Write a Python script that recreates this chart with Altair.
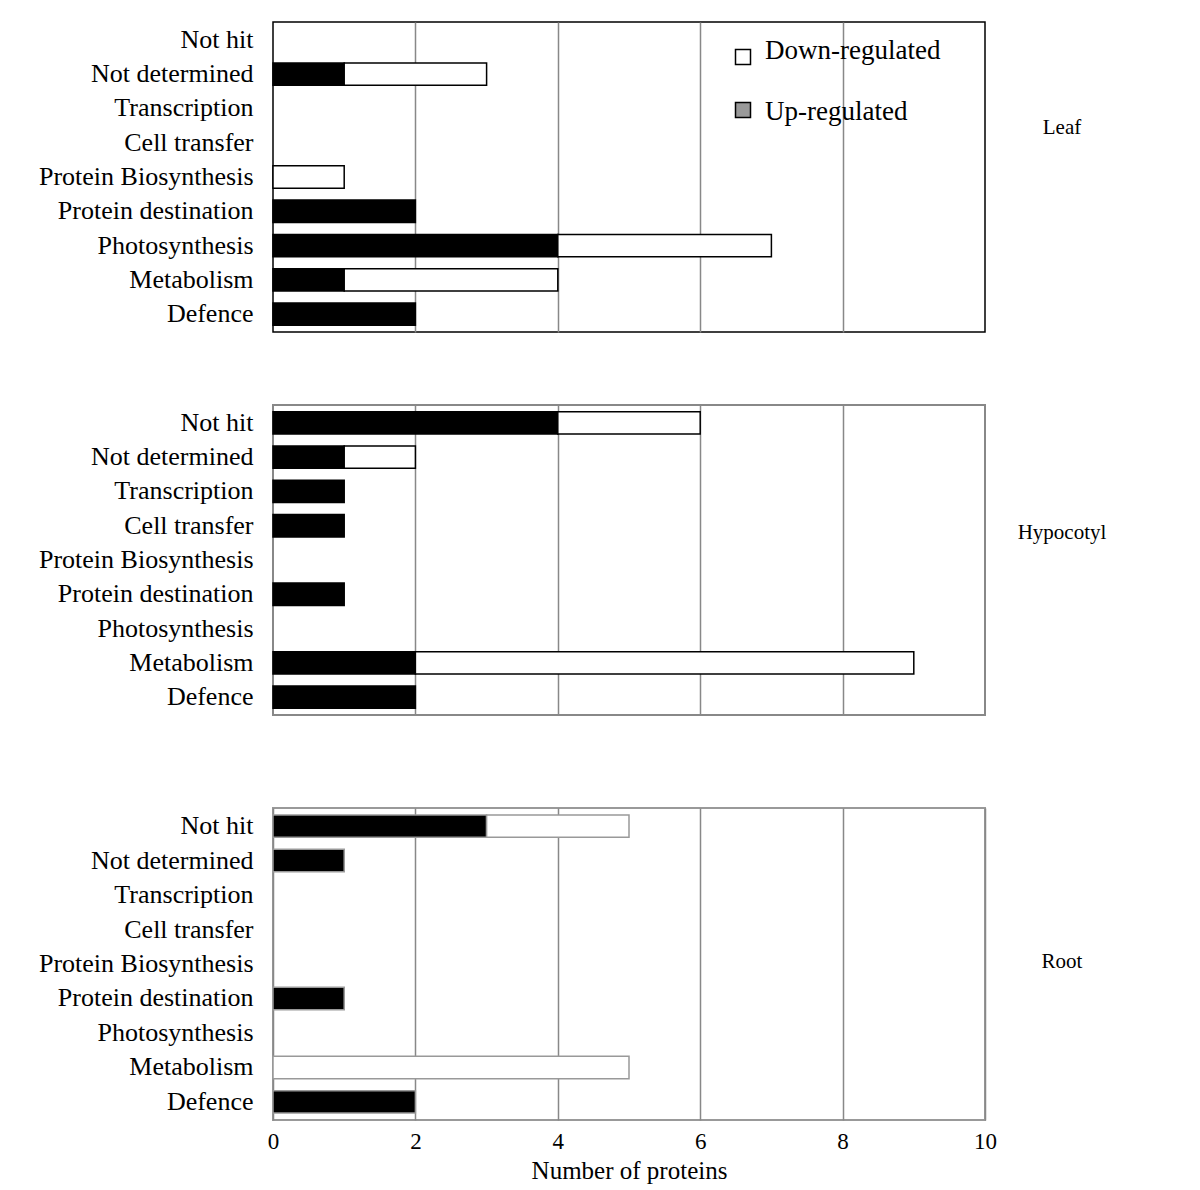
import altair as alt
import pandas as pd

categories = ["Not hit", "Not determined", "Transcription", "Cell transfer",
              "Protein Biosynthesis", "Protein destination", "Photosynthesis",
              "Metabolism", "Defence"]
leaf_up = [0, 1, 0, 0, 0, 2, 4, 1, 2]
leaf_down = [0, 2, 0, 0, 1, 0, 3, 3, 0]
hyp_up = [4, 1, 1, 1, 0, 1, 0, 2, 2]
hyp_down = [2, 1, 0, 0, 0, 0, 0, 7, 0]
root_up = [3, 1, 0, 0, 0, 1, 0, 0, 2]
root_down = [2, 0, 0, 0, 0, 0, 0, 5, 0]
panel_names = ["Leaf", "Hypocotyl", "Root"]
x_ticks = [0, 2, 4, 6, 8, 10]
grid_values = [2, 4, 6, 8]
legend_labels = ["Down-regulated", "Up-regulated"]

FONT = "Liberation Serif"
W, H = 712, 310


def make_df(up, down):
    rows = []
    for c, u, d in zip(categories, up, down):
        if u > 0:
            rows.append({"category": c, "direction": "Up", "start": 0, "end": u})
        if d > 0:
            rows.append({"category": c, "direction": "Down", "start": u, "end": u + d})
    return pd.DataFrame(rows)


def panel(name, up, down, bar_stroke, view_stroke, label_y, bottom=False, legend=False, height=H):
    if bottom:
        xaxis = alt.Axis(values=x_ticks, labels=True, ticks=False, domain=False, grid=True,
                         gridColor="#888888", gridWidth=1.5, labelFont=FONT, labelFontSize=23,
                         labelColor="black", labelPadding=10, labelFlush=False,
                         title="Number of proteins",
                         titleFont=FONT, titleFontSize=25, titleFontWeight="normal",
                         titleColor="black", titlePadding=5)
    else:
        xaxis = alt.Axis(values=grid_values, labels=False, ticks=False, domain=False, grid=True,
                         gridColor="#888888", gridWidth=1.5, title=None)
    bars = alt.Chart(make_df(up, down)).mark_bar(stroke=bar_stroke, strokeWidth=1.5).encode(
        y=alt.Y("category:N",
                scale=alt.Scale(domain=categories, paddingInner=0.35, paddingOuter=0.2),
                axis=alt.Axis(title=None, labelFont=FONT, labelFontSize=26, labelColor="black",
                              labelPadding=20, ticks=False, domain=False, grid=False,
                              labelLimit=400)),
        x=alt.X("start:Q", scale=alt.Scale(domain=[0, 10], nice=False), axis=xaxis),
        x2="end:Q",
        fill=alt.Fill("direction:N",
                      scale=alt.Scale(domain=["Up", "Down"], range=["black", "white"]),
                      legend=None),
    )
    label = alt.Chart(pd.DataFrame({"label": [name]})).mark_text(
        font=FONT, fontSize=21, color="black", align="center", baseline="middle"
    ).encode(x=alt.value(789), y=alt.value(label_y), text="label:N")
    layers = [bars, label]
    if legend:
        leg_df = pd.DataFrame({"label": legend_labels})
        sq_down = alt.Chart(leg_df.iloc[[0]]).mark_square(
            size=225, filled=True, fill="white", stroke="black", strokeWidth=1.5, opacity=1
        ).encode(x=alt.value(470), y=alt.value(35))
        sq_up = alt.Chart(leg_df.iloc[[1]]).mark_square(
            size=225, filled=True, fill="#999999", stroke="black", strokeWidth=1.5, opacity=1
        ).encode(x=alt.value(470), y=alt.value(88))
        t_down = alt.Chart(leg_df.iloc[[0]]).mark_text(
            font=FONT, fontSize=27, color="black", align="left", baseline="alphabetic"
        ).encode(x=alt.value(492), y=alt.value(37), text="label:N")
        t_up = alt.Chart(leg_df.iloc[[1]]).mark_text(
            font=FONT, fontSize=27, color="black", align="left", baseline="alphabetic"
        ).encode(x=alt.value(492), y=alt.value(98), text="label:N")
        layers += [sq_down, sq_up, t_down, t_up]
    return alt.layer(*layers).properties(
        width=W, height=height,
        view=alt.ViewBackground(stroke=view_stroke, strokeWidth=1.5 if view_stroke == "black" else 2),
    )


leaf = panel(panel_names[0], leaf_up, leaf_down, "black", "black", 106, legend=True)
hyp = panel(panel_names[1], hyp_up, hyp_down, "black", "#888888", 128)
root = panel(panel_names[2], root_up, root_down, "#999999", "#999999", 154, bottom=True, height=312)

chart = alt.vconcat(alt.vconcat(leaf, hyp, spacing=71), root, spacing=91).properties(
    padding={"left": 29, "top": 13, "right": 5, "bottom": 5},
    background="white",
)

chart.save("out.html", embed_options={"renderer": "svg", "actions": False})
